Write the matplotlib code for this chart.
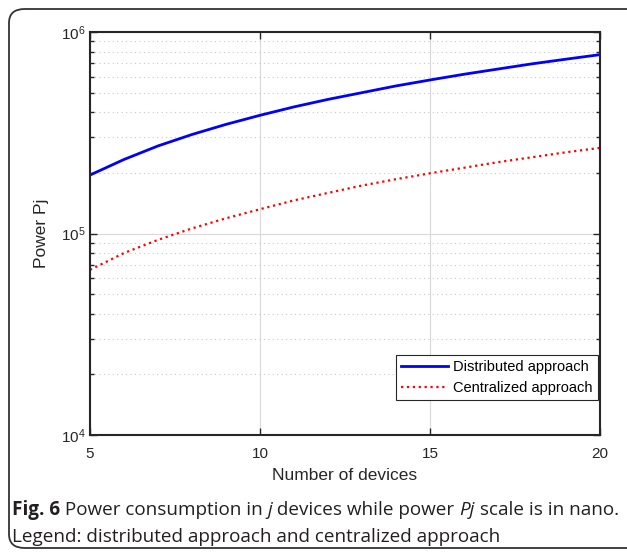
import numpy as np
import matplotlib.pyplot as plt
from matplotlib.patches import FancyBboxPatch

devices = [5, 6, 7, 8, 9, 10, 11, 12, 13, 14, 15, 16, 17, 18, 19, 20]
distributed = [1.95e5, 2.33e5, 2.72e5, 3.10e5, 3.48e5, 3.86e5, 4.25e5, 4.63e5,
               5.00e5, 5.40e5, 5.78e5, 6.17e5, 6.55e5, 6.95e5, 7.33e5, 7.72e5]
centralized = [6.6e4, 8.0e4, 9.3e4, 1.06e5, 1.19e5, 1.32e5, 1.46e5, 1.59e5,
               1.73e5, 1.86e5, 1.99e5, 2.12e5, 2.26e5, 2.39e5, 2.53e5, 2.66e5]

plt.rcParams['font.family'] = ['Liberation Sans', 'DejaVu Sans']

W, H = 627, 555
fig = plt.figure(figsize=(W / 100, H / 100), dpi=100)

# rounded frame around figure + caption
frame = FancyBboxPatch((9 / W, 7 / H), (W + 20) / W, (H - 16) / H,
                       boxstyle="round,pad=0,rounding_size=0.025",
                       transform=fig.transFigure, fill=False,
                       edgecolor='#333333', linewidth=1.3)
fig.patches.append(frame)

ax = fig.add_axes([90 / W, 1 - 435 / H, 510 / W, 403 / H])
ax.plot(devices, distributed, color='#0000ff', linewidth=2, label='Distributed approach')
ax.plot(devices, centralized, color='#ff0000', linestyle=':', linewidth=1.6,
        label='Centralized approach')

ax.set_yscale('log')
ax.set_xlim(5, 20)
ax.set_ylim(1e4, 1e6)
ax.set_xticks([5, 10, 15, 20])
ax.grid(True, which='major', color='#d9d9d9', linewidth=0.8)
ax.grid(True, which='minor', axis='y', color='#c8c8c8', linestyle=(0, (1, 3)), linewidth=0.8)
ax.tick_params(which='both', direction='in', top=True, right=True, labelsize=11,
               colors='#262626', width=1)
ax.tick_params(axis='x', pad=9)
ax.tick_params(which='major', length=5)
ax.tick_params(which='minor', length=3)
for s in ax.spines.values():
    s.set_linewidth(1.5)
    s.set_color('#262626')

ax.set_xlabel('Number of devices', fontsize=12.5, color='#262626', labelpad=5)
ax.set_ylabel('Power Pj', fontsize=12.5, color='#262626', labelpad=8)

leg = ax.legend(loc='lower right', bbox_to_anchor=(0.996, 0.087), borderaxespad=0,
                fontsize=10.5, fancybox=False, framealpha=1, edgecolor='#262626',
                handlelength=3.2, borderpad=0.35, labelspacing=0.45, handletextpad=0.4)
leg.get_frame().set_linewidth(0.8)

# caption with mixed styles
cap = dict(family=['Open Sans', 'DejaVu Sans'], fontsize=13.6, color='#231f20')
fig.canvas.draw()
r = fig.canvas.get_renderer()
pieces = [("Fig. 6", 'bold', 'normal'), (" Power consumption in ", 'normal', 'normal'),
          ("j", 'normal', 'italic'), (" devices while power ", 'normal', 'normal'),
          ("Pj", 'normal', 'italic'), (" scale is in nano.", 'normal', 'normal')]
x = 12
for txt, wt, st in pieces:
    t = fig.text(x / W, 1 - 515 / H, txt, weight=wt, style=st, **cap)
    x += t.get_window_extent(renderer=r).width
fig.text(12 / W, 1 - 542 / H, "Legend: distributed approach and centralized approach", **cap)

fig.savefig('out.png', dpi=100)
